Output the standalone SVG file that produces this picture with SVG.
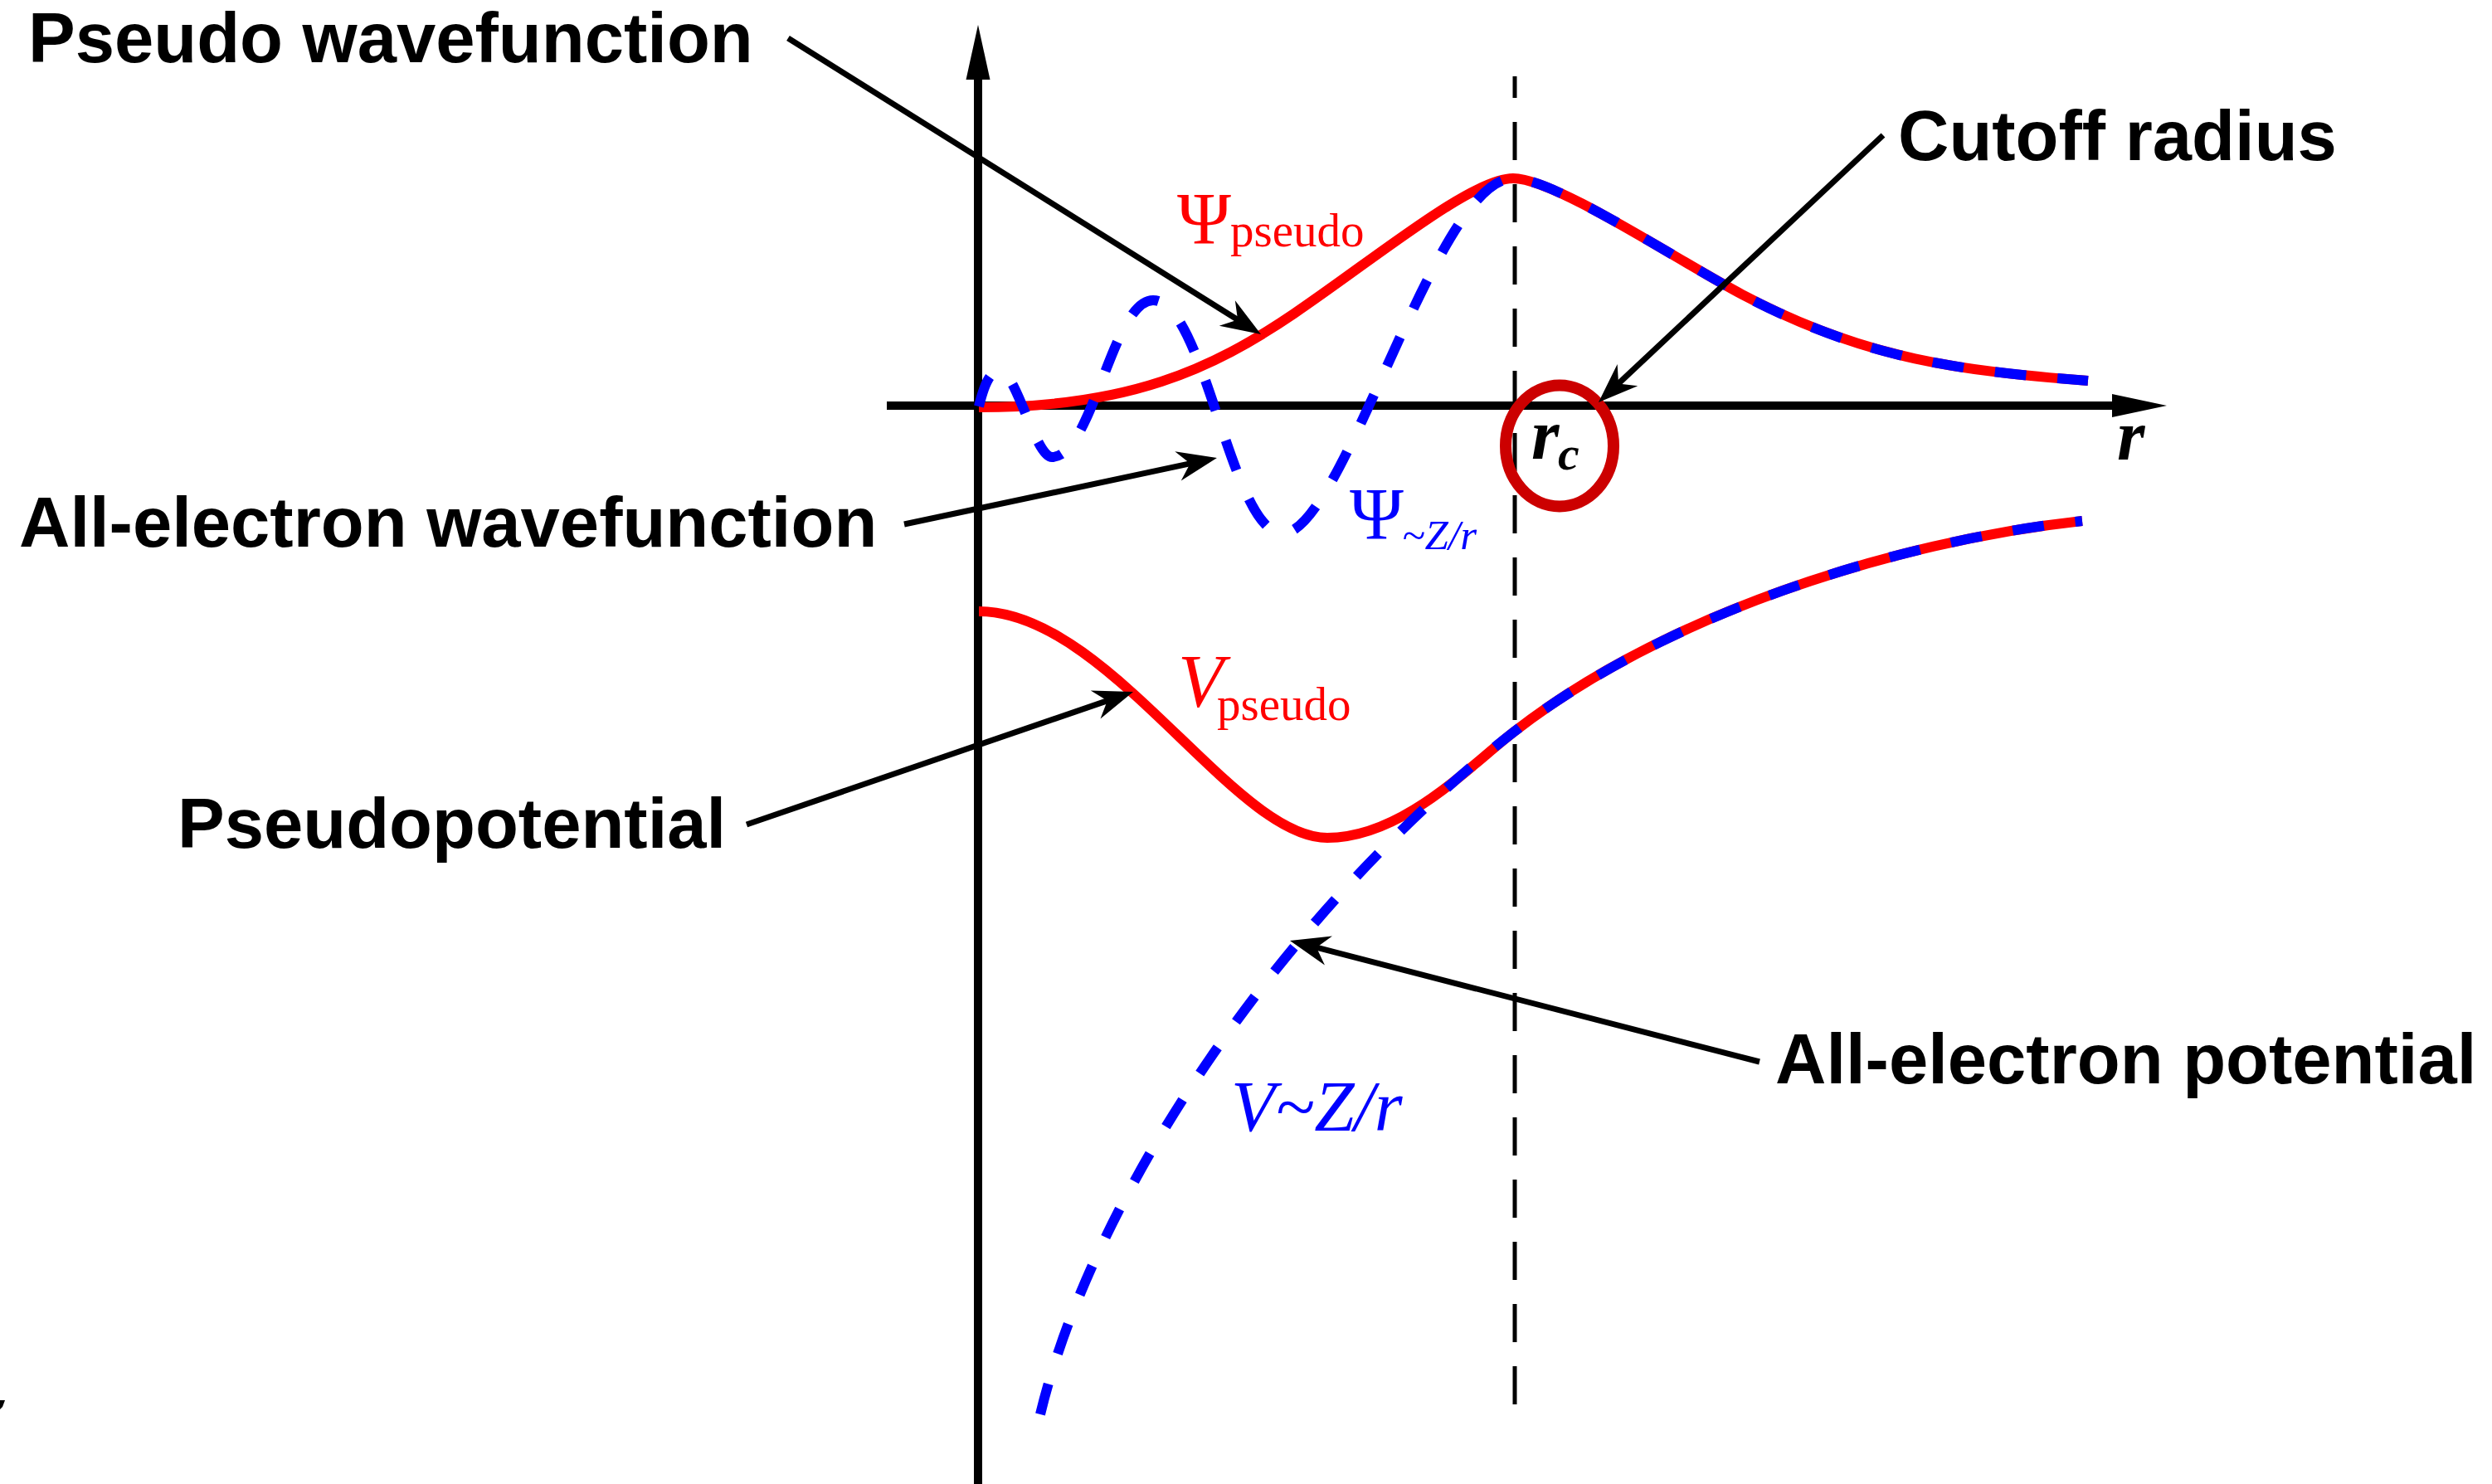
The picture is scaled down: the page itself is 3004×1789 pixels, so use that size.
<svg xmlns="http://www.w3.org/2000/svg" width="3004" height="1789" viewBox="0 0 3004 1789">
  <style>
    .lbl { font-family: "Liberation Sans", Arial, sans-serif; font-weight: bold; font-size: 85px; fill: #000; }
    .math { font-family: "Liberation Serif", "Times New Roman", serif; }
    .axis { stroke: #000; stroke-width: 10; fill: none; }
    .conn { stroke: #000; stroke-width: 7; fill: none; marker-end: url(#ah); }
    .red { stroke: #FF0000; stroke-width: 12; fill: none; }
    .blue { stroke: #0000FF; stroke-width: 12; fill: none; stroke-dasharray: 38 38; }
  </style>
  <defs>
    <marker id="ah" markerUnits="userSpaceOnUse" orient="auto" markerWidth="60" markerHeight="40" viewBox="-25 -20 60 40" refX="0" refY="0" overflow="visible">
      <path d="M25,0 L-23,-18 L-8,0 L-23,18 Z" fill="#000"/>
    </marker>
  </defs>
  <rect width="3004" height="1789" fill="#fff"/>

  <g id="axes">
    <line class="axis" x1="1179" y1="1789" x2="1179" y2="90"/>
    <polygon points="1164.5,96 1179,30 1193.5,96" fill="#000"/>
    <line class="axis" x1="1069" y1="489" x2="2552" y2="489"/>
    <polygon points="2546,475 2612,489 2546,503" fill="#000"/>
    <line x1="1826" y1="92" x2="1826" y2="1695" stroke="#000" stroke-width="5" stroke-dasharray="46 29" stroke-dashoffset="20"/>
    <polygon points="0,1688 6,1688 3,1696 0,1699" fill="#000"/>
  </g>

  <g id="curves">
    <path id="psi-pseudo" class="red" d="M1180,491 C1360,491 1460,446 1560,378 C1660,310 1774,215 1824,215 C1874,215 2020,312.6 2100,355 C2250,434.5 2367,447 2517,459"/>
    <path id="psi-ae" class="blue" d="M1180,490 C1186,465 1193,447 1205,447 C1225,447 1248,551 1268,551 C1317,551 1341,362 1390,362 C1452,362 1484,643 1546,643 C1620,643 1730,215 1824,215 C1874,215 2020,312.6 2100,355 C2250,434.5 2367,447 2517,459"/>
    <path id="v-pseudo" class="red" d="M1180,737 C1336,737 1487,1010 1600,1010 C1690,1010 1770,925 1824,883 C2004,742.6 2280,653 2510,628"/>
    <path id="v-ae" class="blue" d="M1254,1705 C1317,1442.5 1544,1101.4 1824,883 C2004,742.6 2280,653 2510,628"/>
    <ellipse id="rc-circle" cx="1880" cy="537.5" rx="65" ry="73" fill="none" stroke="#CC0000" stroke-width="14"/>
  </g>

  <g id="math-labels" class="math">
    <g id="psi-pseudo-label" fill="#FF0000">
      <text x="1419" y="293" font-size="88">Ψ</text>
      <text x="1483" y="297" font-size="57">pseudo</text>
    </g>
    <g id="psi-ae-label" fill="#0000FF">
      <text x="1627" y="649" font-size="88">Ψ</text>
      <text x="1690" y="662" font-size="51" font-style="italic">~Z/r</text>
    </g>
    <g id="v-pseudo-label" fill="#FF0000">
      <text x="1420" y="852" font-size="90" font-style="italic">V</text>
      <text x="1467" y="868" font-size="57">pseudo</text>
    </g>
    <g id="v-ae-label" fill="#0000FF">
      <text x="1484" y="1363" font-size="87" font-style="italic">V~Z/r</text>
    </g>
    <g id="rc-label" fill="#000" font-weight="bold" font-style="italic">
      <text x="1846" y="553" font-size="86">r</text>
      <text x="1878" y="566" font-size="58">c</text>
    </g>
    <g id="r-label" fill="#000" font-weight="bold" font-style="italic">
      <text x="2552" y="554" font-size="86">r</text>
    </g>
  </g>

  <g id="node-pseudo-wavefunction"><text class="lbl" x="34" y="75">Pseudo wavefunction</text></g>
  <g id="node-ae-wavefunction"><text class="lbl" x="23" y="659">All-electron wavefunction</text></g>
  <g id="node-pseudopotential"><text class="lbl" x="214" y="1022">Pseudopotential</text></g>
  <g id="node-cutoff-radius"><text class="lbl" x="2288" y="193">Cutoff radius</text></g>
  <g id="node-ae-potential"><text class="lbl" x="2140" y="1306">All-electron potential</text></g>

  <g id="connectors">
    <path class="conn" d="M950,46 L1498.8,389.7"/>
    <path class="conn" d="M1090,632 L1442.5,557.2"/>
    <path class="conn" d="M2270,163 L1945.2,467.9"/>
    <path class="conn" d="M900,994 L1342.4,842.1"/>
    <path class="conn" d="M2121,1280 L1579.2,1140.2"/>
  </g>
</svg>
